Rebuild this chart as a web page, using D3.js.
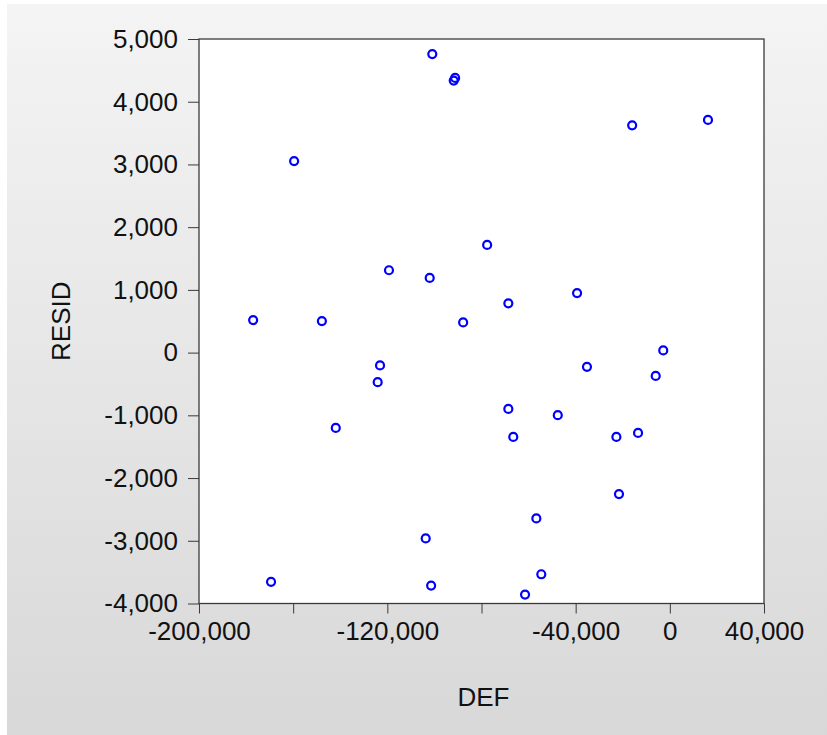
<!DOCTYPE html>
<html>
<head>
<meta charset="utf-8">
<script src="https://cdn.jsdelivr.net/npm/d3@7"></script>
<style>
  body { margin: 0; background: #fff; }
  svg { display: block; font-family: "Liberation Sans", Arial, sans-serif; }
</style>
</head>
<body>
<div id="chart"></div>
<script>
// residuals vs DEF
var defValues = [-100900, -91800, -91200, -16000, 16200, -159600, -77600, -119300, -102000, -68600,
    -39400, -177000, -147800, -87800, -2800, -123100, -124100, -35200, -6000, -68600,
    -47600, -66500, -22700, -13500, -141900, -21600, -56700, -103700, -169400, -101400,
    -54600, -61500]
var residValues = [4760, 4337, 4380, 3623, 3709, 3054, 1717, 1313, 1190, 786,
    950, 519, 503, 482, 35, -204, -471, -227, -371, -898,
    -998, -1345, -1345, -1281, -1201, -2256, -2644, -2963, -3655, -3714,
    -3534, -3858]

var xTicks = [-200000, -160000, -120000, -80000, -40000, 0, 40000]
var xLabelled = [-200000, -120000, -40000, 0, 40000]
var yTicks = [-4000, -3000, -2000, -1000, 0, 1000, 2000, 3000, 4000, 5000]

var W = 827, H = 735
var plot = {left: 199, right: 764, top: 39, bottom: 603.5}

var svg = d3.select("#chart")
    .append("svg")
    .attr("width", W)
    .attr("height", H)

// grey panel with a soft vertical gradient
var grad = svg.append("defs").append("linearGradient")
    .attr("id", "bg")
    .attr("x1", 0).attr("y1", 0).attr("x2", 0).attr("y2", 1)
grad.append("stop").attr("offset", "0%").attr("stop-color", "#f4f4f4")
grad.append("stop").attr("offset", "100%").attr("stop-color", "#d8d8d8")

svg.append("rect")
    .attr("x", 7).attr("y", 4)
    .attr("width", W - 7).attr("height", H - 4)
    .attr("fill", "url(#bg)")

var x = d3.scaleLinear().domain([-200000, 40000]).range([plot.left, plot.right])
var y = d3.scaleLinear().domain([-4000, 5000]).range([plot.bottom, plot.top])

svg.append("rect")
    .attr("x", x(-200000)).attr("y", y(5000))
    .attr("width", x(40000) - x(-200000))
    .attr("height", y(-4000) - y(5000))
    .attr("fill", "#fff")
    .attr("stroke", "#3a3a3a")
    .attr("stroke-width", 1.3)

// plain hyphen for negatives, like the original
var comma = d3.format(",")
function fmt(d) { return comma(d).replace("\u2212", "-") }

// y axis
var yAxis = svg.append("g")
    .attr("transform", "translate(" + plot.left + ",0)")
    .call(d3.axisLeft(y).tickValues(yTicks).tickSize(11).tickPadding(10).tickFormat(fmt))
yAxis.select(".domain").remove()
yAxis.selectAll("line").attr("stroke", "#3a3a3a")
yAxis.selectAll("text")
    .attr("font-size", "26px")
    .attr("fill", "#111")
    .attr("font-family", "Liberation Sans, Arial, sans-serif")

// x axis
var xAxis = svg.append("g")
    .attr("transform", "translate(0," + plot.bottom + ")")
    .call(d3.axisBottom(x).tickValues(xTicks).tickSize(10).tickPadding(8)
        .tickFormat(function (d) { return xLabelled.indexOf(d) >= 0 ? fmt(d) : "" }))
xAxis.select(".domain").remove()
xAxis.selectAll("line").attr("stroke", "#3a3a3a")
xAxis.selectAll("text")
    .attr("font-size", "26px")
    .attr("fill", "#111")
    .attr("font-family", "Liberation Sans, Arial, sans-serif")

// axis titles
svg.append("text")
    .attr("transform", "translate(70," + (plot.top + plot.bottom) / 2 + ") rotate(-90)")
    .attr("text-anchor", "middle")
    .attr("font-size", "26px")
    .attr("fill", "#111")
    .text("RESID")

svg.append("text")
    .attr("x", (plot.left + plot.right) / 2 + 2)
    .attr("y", 706)
    .attr("text-anchor", "middle")
    .attr("font-size", "26px")
    .attr("fill", "#111")
    .text("DEF")

// points
svg.append("g").selectAll("circle")
    .data(defValues.map(function (d, i) { return {def: d, resid: residValues[i]} }))
    .enter()
    .append("circle")
    .attr("cx", function (d) { return x(d.def) })
    .attr("cy", function (d) { return y(d.resid) })
    .attr("r", 4)
    .attr("fill", "none")
    .attr("stroke", "#0000ff")
    .attr("stroke-width", 2.2)
</script>
</body>
</html>
